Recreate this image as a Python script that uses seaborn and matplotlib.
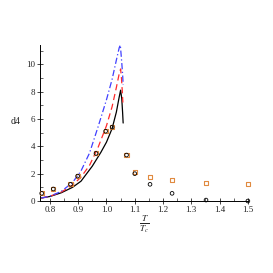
import matplotlib
matplotlib.use('Agg')
import matplotlib.pyplot as plt
import seaborn as sns
import pandas as pd
from matplotlib.ticker import MultipleLocator


# curves
x_black = [0.77, 0.80, 0.84, 0.88, 0.91, 0.95, 0.98, 1.00, 1.02, 1.035, 1.045, 1.050, 1.054, 1.057, 1.059]
y_black = [0.22, 0.33, 0.60, 1.00, 1.45, 2.55, 3.55, 4.30, 5.30, 6.50, 7.60, 8.10, 7.50, 6.50, 5.70]

x_red = [0.77, 0.80, 0.84, 0.88, 0.91, 0.94, 0.97, 1.00, 1.02, 1.035, 1.045, 1.050, 1.053, 1.056, 1.058]
y_red = [0.22, 0.35, 0.65, 1.15, 1.75, 2.60, 3.90, 5.50, 6.90, 8.30, 9.30, 9.65, 9.00, 8.00, 7.20]

x_blue = [0.77, 0.80, 0.84, 0.88, 0.91, 0.94, 0.97, 1.00, 1.02, 1.035, 1.045, 1.049, 1.053, 1.057, 1.059]
y_blue = [0.22, 0.35, 0.70, 1.35, 2.20, 3.50, 5.40, 7.40, 8.90, 10.30, 11.20, 11.40, 10.40, 9.30, 8.50]

# points
x_pts = [0.771, 0.812, 0.873, 0.898, 0.963, 0.997, 1.020, 1.071, 1.100, 1.154, 1.232, 1.352, 1.500]
y_sq = [0.56, 0.88, 1.22, 1.82, 3.48, 5.10, 5.40, 3.36, 2.14, 1.78, 1.56, 1.31, 1.26]
y_circ = [0.56, 0.88, 1.22, 1.82, 3.48, 5.10, 5.40, 3.36, 2.00, 1.22, 0.56, 0.07, 0.0]

sns.set_style('white')
plt.rcParams['font.family'] = ['Liberation Serif', 'DejaVu Serif']
plt.rcParams['mathtext.fontset'] = 'stix'

fig = plt.figure(figsize=(2.73, 2.73), dpi=100)
ax = fig.add_axes([0.1465, 0.2637, 0.7615, 0.5713])

df_b = pd.DataFrame({'x': x_black, 'y': y_black})
df_r = pd.DataFrame({'x': x_red, 'y': y_red})
df_bl = pd.DataFrame({'x': x_blue, 'y': y_blue})
sns.lineplot(data=df_b, x='x', y='y', sort=False, color='black', lw=0.9, ax=ax)
sns.lineplot(data=df_r, x='x', y='y', sort=False, color='#ff2a2a', lw=0.9, ax=ax,
             linestyle=(0, (5, 3)))
sns.lineplot(data=df_bl, x='x', y='y', sort=False, color='#4040ff', lw=0.9, ax=ax,
             linestyle=(0, (5, 2, 1, 2)))

df_p = pd.DataFrame({'x': x_pts, 'sq': y_sq, 'c': y_circ})
sns.scatterplot(data=df_p, x='x', y='sq', marker='s', s=9, facecolor='none',
                edgecolor='#e08a40', linewidth=0.8, ax=ax, clip_on=False, zorder=3)
sns.scatterplot(data=df_p, x='x', y='c', marker='o', s=7, facecolor='none',
                edgecolor='black', linewidth=0.6, ax=ax, clip_on=False, zorder=4)

ax.set_xlim(0.765, 1.5)
ax.set_ylim(0, 11.4)
ax.xaxis.set_minor_locator(MultipleLocator(0.05))
ax.yaxis.set_minor_locator(MultipleLocator(1))
ax.set_yticks([0, 2, 4, 6, 8, 10])
ax.set_xticks([0.8, 0.9, 1.0, 1.1, 1.2, 1.3, 1.4, 1.5])
ax.set_xticklabels(['0.8', '0.9', '1.0', '1.1', '1.2', '1.3', '1.4', '1.5'])
ax.tick_params(which='major', direction='inout', length=4, width=0.6, labelsize=6.5,
               bottom=True, left=True, pad=1.5)
ax.tick_params(which='minor', direction='in', length=2, width=0.5, bottom=True, left=True)
for s in ['top', 'right']:
    ax.spines[s].set_visible(False)
for s in ['left', 'bottom']:
    ax.spines[s].set_linewidth(0.7)
    ax.spines[s].set_color('black')

ax.set_xlabel('')
ax.set_ylabel('')
fig.text(0.04, 0.555, 'd4', fontsize=7, va='center')
fig.text(0.528, 0.178, r'$\frac{T}{T_c}$', fontsize=9.5, ha='center', va='center')

fig.savefig('out.png', dpi=100)
